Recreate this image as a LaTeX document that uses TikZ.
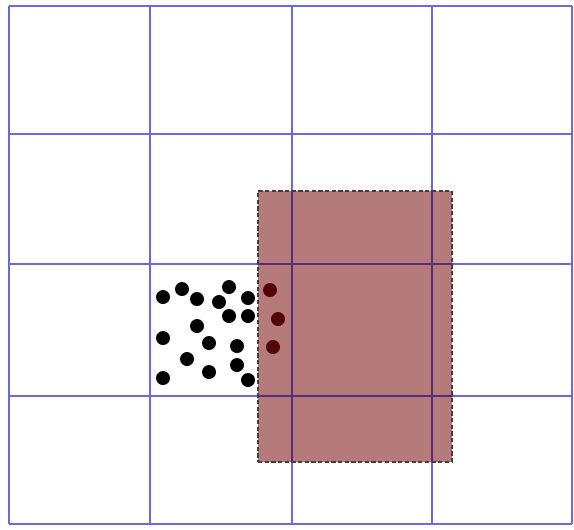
\documentclass[tikz,border=0pt]{standalone}
\usepackage{xcolor}
\usepackage{tikz}
\usetikzlibrary{positioning}

\definecolor{gridblue}{RGB}{108,104,226}
\definecolor{griddark}{RGB}{88,44,124}
\definecolor{slab}{RGB}{181,122,122}
\definecolor{edgegray}{RGB}{70,58,58}
\definecolor{darkred}{RGB}{82,6,6}

\begin{document}
\begin{tikzpicture}[x=0.02cm,y=-0.02cm,
      gridline/.style={gridblue,line width=1.2pt},
      slabbox/.style={fill=slab,draw=edgegray,line width=1.1pt,dash pattern=on 2.4pt off 1.4pt},
      dot/.style={circle,fill=black,inner sep=0pt,minimum size=0.28cm},
      reddot/.style={dot,fill=darkred}]
      \useasboundingbox (0,0) rectangle (574,529);
      % grid
      \foreach \gx in {9,150,292,432,572}
        \draw[gridline] (\gx,6) -- (\gx,524);
      \foreach \gy in {6,134,264,396,524}
        \draw[gridline] (9,\gy) -- (572,\gy);
      % shaded block
      \node[slabbox,rectangle,minimum width=3.88cm,minimum height=5.42cm,anchor=north west] (block) at (257,190) {};
      \begin{scope}
        \clip (block.north west) rectangle (block.south east);
        \foreach \gx in {292,432}
          \draw[gridline,griddark] (\gx,6) -- (\gx,524);
        \foreach \gy in {264,396}
          \draw[gridline,griddark] (9,\gy) -- (572,\gy);
      \end{scope}
      % particles
      \foreach \px/\py [count=\i] in {163/297,182/289,197/299,219/302,229/287,248/298,
          229/316,248/316,197/326,163/338,209/343,237/346,187/359,237/365,209/372,163/378,248/380}
        \node[dot] (p\i) at (\px,\py) {};
      \foreach \px/\py [count=\i] in {270/290,278/319,273/347}
        \node[reddot] (q\i) at (\px,\py) {};
    \end{tikzpicture}
\end{document}
